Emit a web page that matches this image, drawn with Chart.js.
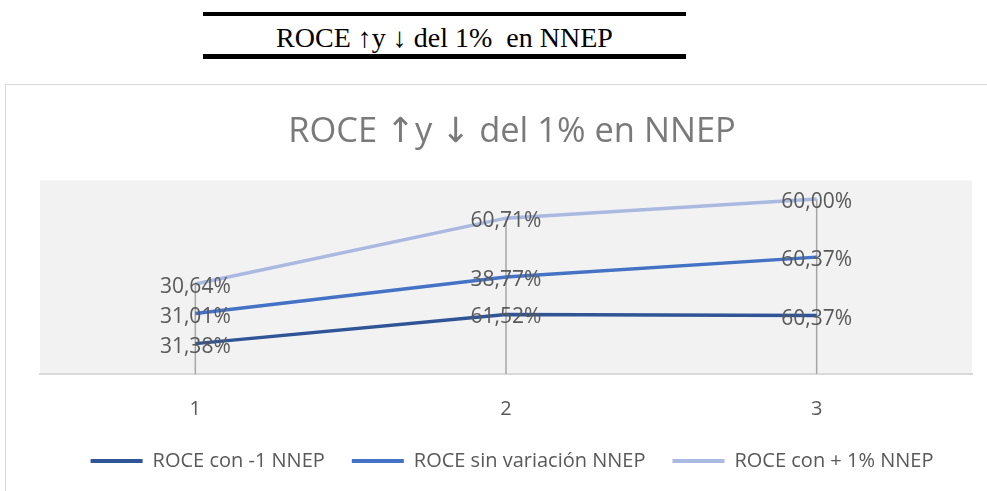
<!DOCTYPE html>
<html>
<head>
<meta charset="utf-8">
<script src="https://cdn.jsdelivr.net/npm/chart.js@4.4.0/dist/chart.umd.min.js"></script>
<style>
  body { margin: 0; width: 987px; height: 491px; overflow: hidden; background: #fff; position: relative; }
  #header {
    position: absolute; left: 203px; top: 12px; width: 483px; height: 38px;
    border-top: 4px solid #000; border-bottom: 5px solid #000;
    font-family: 'Liberation Serif', 'Times New Roman', serif; font-size: 28px;
    line-height: 43px; text-align: center; white-space: pre; color: #000; overflow: hidden;
  }
  #box { position: absolute; left: 5px; top: 84px; width: 1000px; height: 420px; border: 1px solid #d9d9d9; }
  #wrap { position: absolute; left: 6px; top: 85px; width: 981px; height: 406px; }
</style>
</head>
<body>
<div id="header">ROCE ↑y ↓ del 1%  en NNEP</div>
<div id="box"></div>
<div id="wrap"><canvas id="chart" width="981" height="406"></canvas></div>
<script>
// Data
const categories = ['1', '2', '3'];
const roceMenos = [31.38, 61.52, 60.37];
const roceSin = [31.01, 38.77, 60.37];
const roceMas = [30.64, 60.71, 60.00];
const seriesNames = ['ROCE con -1 NNEP', 'ROCE sin variación NNEP', 'ROCE con + 1% NNEP'];
const seriesColors = ['#2F5597', '#4472C4', '#A9B9E0'];
const yMax = 200;

const FONT = "'Open Sans', 'DejaVu Sans', sans-serif";

// Gray plot area background
const plotBackground = {
    id: 'plotBackground',
    beforeDraw(chart) {
        const { ctx, chartArea: a } = chart;
        ctx.save();
        ctx.fillStyle = '#f2f2f2';
        ctx.fillRect(a.left, a.top, a.right - a.left, a.bottom - a.top);
        ctx.restore();
    }
};

// Drop lines from the highest point down to the axis
const dropLines = {
    id: 'dropLines',
    beforeDatasetsDraw(chart) {
        const { ctx, chartArea: a } = chart;
        const metas = chart.data.datasets.map((d, i) => chart.getDatasetMeta(i));
        ctx.save();
        ctx.strokeStyle = '#a6a6a6';
        ctx.lineWidth = 1.5;
        metas[0].data.forEach((pt, j) => {
            const top = Math.min(...metas.map(m => m.data[j].y));
            ctx.beginPath();
            ctx.moveTo(pt.x, top);
            ctx.lineTo(pt.x, a.bottom);
            ctx.stroke();
        });
        ctx.restore();
    }
};

// Value labels centered on each point
const valueLabels = {
    id: 'valueLabels',
    afterDatasetsDraw(chart) {
        const { ctx } = chart;
        ctx.save();
        ctx.font = '21px ' + FONT;
        ctx.fillStyle = '#595959';
        ctx.textAlign = 'center';
        ctx.textBaseline = 'middle';
        chart.data.datasets.forEach((ds, i) => {
            chart.getDatasetMeta(i).data.forEach((pt, j) => {
                const txt = ds.data[j].toFixed(2).replace('.', ',') + '%';
                ctx.fillText(txt, pt.x, pt.y + 3);
            });
        });
        ctx.restore();
    }
};

new Chart(document.getElementById('chart'), {
    type: 'line',
    data: {
        labels: categories,
        datasets: [roceMenos, roceSin, roceMas].map((d, i) => ({
            label: seriesNames[i],
            data: d,
            borderColor: seriesColors[i],
            backgroundColor: seriesColors[i],
            borderWidth: 3.5,
            pointRadius: 0,
            tension: 0,
            fill: false
        }))
    },
    options: {
        responsive: false,
        animation: false,
        layout: { padding: { left: 34, right: 3, top: 0, bottom: 10 } },
        scales: {
            x: {
                offset: true,
                grid: { display: false, drawTicks: false },
                border: { color: '#d9d9d9', width: 2 },
                ticks: { color: '#595959', font: { size: 20, family: FONT }, padding: 23 },
                afterFit(s) { s.height = 50; }
            },
            y: {
                position: 'right',
                stacked: true,
                min: 0,
                max: yMax,
                grid: { display: false, drawTicks: false },
                border: { display: false },
                ticks: { display: false },
                afterFit(s) { s.width = 12; }
            }
        },
        plugins: {
            title: {
                display: true,
                text: 'ROCE ↑y ↓ del 1% en NNEP',
                color: '#7a7a7a',
                font: { size: 34.5, family: FONT, weight: 'normal' },
                padding: { top: 26, bottom: 28 }
            },
            legend: {
                position: 'bottom',
                labels: {
                    color: '#595959',
                    font: { size: 20, family: FONT },
                    boxWidth: 52,
                    boxHeight: 4,
                    padding: 27,
                    generateLabels(chart) {
                        return Chart.defaults.plugins.legend.labels.generateLabels(chart).map(item => {
                            item.lineWidth = 0;
                            item.fillStyle = item.strokeStyle;
                            return item;
                        });
                    }
                }
            },
            tooltip: { enabled: false }
        }
    },
    plugins: [plotBackground, dropLines, valueLabels]
});
</script>
</body>
</html>
